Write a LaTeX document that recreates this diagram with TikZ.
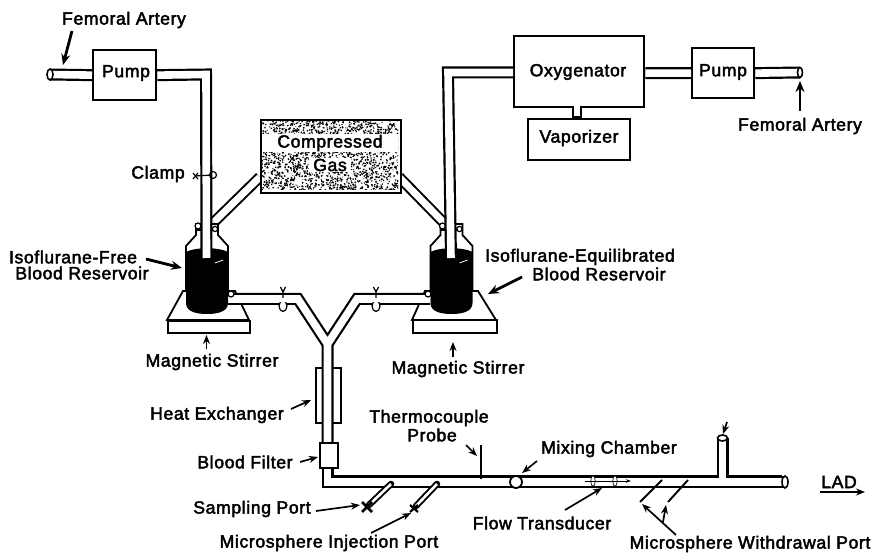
\documentclass[tikz,border=0pt]{standalone}
\usepackage{fontspec}
\setmainfont[FakeBold=2.5,LetterSpace=3.5]{Liberation Sans}
\usetikzlibrary{arrows.meta,shapes.geometric}
\tikzset{
  lbl/.style={font=\fontsize{17.6}{20}\selectfont,inner sep=0pt,align=center},
  box/.style={draw,fill=white,line width=2.3pt,inner sep=0pt,line join=miter},
  tubeo/.style={draw=black,line width=12pt,line join=miter},
  tubei/.style={draw=white,line width=7.6pt,line join=miter},
  thintubeo/.style={draw=black,line width=9pt},
  thintubei/.style={draw=white,line width=5pt},
  heavyarrow/.style={line width=2.8pt,-{Stealth[length=11pt,width=9pt]}},
  midarrow/.style={line width=1.7pt,-{Stealth[length=9pt,width=7pt]}},
  fineline/.style={line width=1.2pt},
  wall/.style={line width=1.8pt},
  tubeend/.style={draw,fill=white,line width=1.6pt},
}
\newcommand{\bottle}[1]{%
  \begin{scope}[shift={(#1,0)}]
    \draw[wall,fill=white] (-21,290) -- (-21,246) -- (-11,235) -- (-11,224) -- (11,224) -- (11,235) -- (21,246) -- (21,290);
    \fill (-21,252) .. controls (-12,247) and (12,247) .. (21,252) -- (21,303)
      .. controls (21,312) and (10,314) .. (0,314) .. controls (-10,314) and (-21,312) .. (-21,303) -- cycle;
    \draw[white,line width=.8pt] (8,263) -- (16,260);
    \draw[fineline] (-11,230) -- (11,230);
    \draw[fineline,fill=white] (-9,226) circle (3);
    \draw[fineline,fill=white] (8,229) circle (2.6);
  \end{scope}}
\begin{document}
\begin{tikzpicture}[x=1pt,y=-1pt]
\useasboundingbox[fill=white] (0,0) rectangle (871,553);
% named places
\coordinate (feL) at (50,74.5);
\coordinate (cornerA) at (206,74.5);
\coordinate (tipA) at (206.5,258);
\coordinate (cornerB) at (448,72.5);
\coordinate (tipB) at (451,258);
\coordinate (feR) at (800,72.5);
\coordinate (gasLa) at (260,177);
\coordinate (gasLb) at (214,222);
\coordinate (gasRa) at (399,177);
\coordinate (gasRb) at (445,224);
\coordinate (bL) at (228,299);
\coordinate (bLk) at (298,299);
\coordinate (bR) at (430,299);
\coordinate (bRk) at (357,299);
\coordinate (yc) at (327.5,344);
\coordinate (corner) at (327.5,482);
\coordinate (lad) at (785,482);
\coordinate (rise) at (722.5,438);
\coordinate (riseb) at (722.5,482);
\coordinate (vapA) at (577,106);
\coordinate (vapB) at (577,118);
% stirrers
\draw[wall,fill=white] (167,320) -- (183,291) -- (235,291) -- (249,320) -- cycle;
\node[box,minimum width=82pt,minimum height=12pt,anchor=north west] (stL) at (167,320) {};
\draw[wall,fill=white] (412,320) -- (425,291) -- (478,291) -- (496,320) -- cycle;
\node[box,minimum width=84pt,minimum height=13pt,anchor=north west] (stR) at (412,319) {};
% gas pipes
\path[tubeo,line width=11pt] (gasLa) -- (gasLb) (gasRa) -- (gasRb);
\path[tubei,line width=7pt] (gasLa) -- (gasLb) (gasRa) -- (gasRb);
% exchanger
\node[draw,line width=1.6pt,minimum width=25pt,minimum height=55pt,inner sep=0pt,anchor=north west] (hx) at (315,367) {};
% blood tubes
\path[tubeo] (bL) -- (bLk) -- (yc) -- (327.5,445) (bR) -- (bRk) -- (yc);
\path[tubeo] (327.5,460) -- (corner) -- (lad) (rise) -- (riseb);
\path[tubei] (bL) -- (bLk) -- (yc) -- (327.5,445) (bR) -- (bRk) -- (yc);
\path[tubei] (327.5,460) -- (corner) -- (lad) (rise) -- (riseb);
\coordinate (upA) at (331,477);
\coordinate (upB) at (717,477);
\coordinate (upC) at (729,477);
\coordinate (upD) at (782,477);
\draw[line width=3pt] (upA) -- (upB) (upC) -- (upD);
% bottles
\bottle{207}
\bottle{451.5}
% outlet loops
\draw[fineline,fill=white] (231,294) circle (3);
\draw[fineline,fill=white] (428,294) circle (3);
% nodes
\node[box,minimum width=63pt,minimum height=50pt,anchor=north west] (pumpL) at (92,49) {};
\node[box,minimum width=130pt,minimum height=71pt,anchor=north west] (oxy) at (513,35) {};
\node[box,minimum width=62pt,minimum height=50pt,anchor=north west] (pumpR) at (691,47) {};
\node[box,minimum width=102pt,minimum height=41pt,anchor=north west] (vap) at (527,118) {};
\node[box,minimum width=18pt,minimum height=25pt,anchor=north west] (filt) at (319,442) {};
\node[box,minimum width=140pt,minimum height=73pt,anchor=north west] (gas) at (259.5,119) {};
% stipple
\begin{scope}
\clip (261,121) rectangle (398,190);
\pgfmathsetseed{7}
\foreach \i in {1,...,1900}{
  \pgfmathsetmacro\xa{260+139*rnd}
  \pgfmathsetmacro\ya{120+71*rnd}
  \pgfmathsetmacro\dxa{3.2*rnd-1.6}
  \pgfmathsetmacro\dya{3.2*rnd-1.6}
  \draw[line width=1.3pt] (\xa,\ya) -- ++(\dxa,\dya);
}
\end{scope}
% pump and vessel tubes
\path[tubeo] (feL) -- (pumpL.west) (pumpL.east) -- (cornerA) -- (tipA);
\path[tubei] (feL) -- (pumpL.west) (pumpL.east) -- (cornerA) -- (tipA);
\path[tubeo] (oxy.west |- cornerB) -- (cornerB) -- (tipB);
\path[tubei] (oxy.west |- cornerB) -- (cornerB) -- (tipB);
\path[tubeo] (oxy.east |- pumpR.west) -- (pumpR.west) (pumpR.east) -- (feR);
\path[tubei] (oxy.east |- pumpR.west) -- (pumpR.west) (pumpR.east) -- (feR);
\path[thintubeo,line width=10pt] (vapA) -- (vapB);
\path[thintubei,line width=6pt] (vapA) ++(0,-2) -- ([yshift=2pt]vapB);
% tube ends
\node[tubeend,ellipse,minimum width=6pt,minimum height=11pt,inner sep=0pt] (endL) at (feL) {};
\node[tubeend,ellipse,minimum width=5pt,minimum height=10pt,inner sep=0pt] (endR) at (feR) {};
\node[tubeend,ellipse,minimum width=6pt,minimum height=12pt,inner sep=0pt] (endLad) at (lad) {};
\node[tubeend,ellipse,minimum width=10pt,minimum height=6pt,inner sep=0pt] (endRise) at (rise) {};
\node[tubeend,circle,minimum size=12pt,inner sep=0pt,line width=1.8pt] (mix) at (516,482) {};
% clamps
\coordinate (clA) at (195,176);
\node[draw,circle,fineline,minimum size=7pt,inner sep=0pt] (clAl) at (213,175) {};
\draw[fineline] (clA) -- (clAl);
\draw[fineline] (193,173) -- (198,179) (198,173) -- (193,179);
\foreach \cx/\nm in {283/a,376/b}{
  \node[draw,ellipse,fineline,fill=white,minimum width=8pt,minimum height=11pt,inner sep=0pt] (cl\nm) at (\cx,306) {};
  \path[draw=white,line width=7pt] (\cx-5,299) -- (\cx+5,299);
  \draw[fineline] (\cx,298) -- (\cx,292) (\cx-2.5,287) -- (\cx,292) -- (\cx+2.5,287);
}
% thermocouple
\coordinate (tcT) at (481,445);
\coordinate (tcB) at (481,479);
\draw[line width=2.6pt] (tcT) -- (tcB);
% ports
\coordinate (p1a) at (391,484);
\coordinate (p1b) at (369,505);
\coordinate (p2a) at (437,484);
\coordinate (p2b) at (416,506);
\path[thintubeo,line width=6.5pt,line cap=round] (p1a) -- (p1b) (p2a) -- (p2b);
\path[thintubei,line width=2.6pt] (p1a) -- (p1b) (p2a) -- (p2b);
\draw[line width=2.6pt] (362,502) -- (372,512) (372,502) -- (362,512);
\draw[line width=2.2pt] (410,505) -- (418,512) (418,505) -- (410,512);
% transducer
\draw[line width=.7pt,fill=white] (593,481) ellipse (2.2 and 5.5);
\draw[line width=.7pt,fill=white] (615,481) ellipse (2.2 and 5.5);
\draw[line width=.9pt,-{Stealth[length=5pt,width=3.5pt]}] (585,481) -- (631,481);
% withdrawal lines
\coordinate (w1a) at (662,480);
\coordinate (w1b) at (640,502);
\coordinate (w2a) at (688,480);
\coordinate (w2b) at (668,502);
\draw[line width=1.9pt] (w1a) -- (w1b) (w2a) -- (w2b);
% labels
\node[lbl] (tFL) at (124,20) {Femoral Artery};
\node[lbl] (tPL) at (126,73) {Pump};
\node[lbl] (tOx) at (578,72) {Oxygenator};
\node[lbl] (tPR) at (723,72) {Pump};
\node[lbl] (tVa) at (579,138) {Vaporizer};
\node[lbl] (tFR) at (800,126) {Femoral Artery};
\node[lbl,fill=white,inner xsep=15pt,inner ysep=1pt] (tCo) at (330,143) {Compressed};
\node[lbl,fill=white,inner xsep=4pt,inner ysep=1pt] (tGa) at (330,165) {Gas};
\node[lbl] (tCl) at (158,174) {Clamp};
\node[lbl] (tIF) at (73,257) {Isoflurane-Free};
\node[lbl] (tBL) at (82,273) {Blood Reservoir};
\node[lbl] (tIE) at (580,257) {Isoflurane-Equilibrated};
\node[lbl] (tBR) at (599,274) {Blood Reservoir};
\node[lbl] (tML) at (212,362) {Magnetic Stirrer};
\node[lbl] (tMR) at (458,369) {Magnetic Stirrer};
\node[lbl] (tHE) at (217,415) {Heat Exchanger};
\node[lbl] (tBF) at (245,462) {Blood Filter};
\node[lbl] (tTh) at (429,418) {Thermocouple};
\node[lbl] (tPr) at (432,435) {Probe};
\node[lbl] (tMC) at (609,449) {Mixing Chamber};
\node[lbl] (tSP) at (252,509) {Sampling Port};
\node[lbl] (tFT) at (542,523) {Flow Transducer};
\node[lbl] (tMI) at (329,543) {Microsphere Injection Port};
\node[lbl] (tMW) at (750,544) {Microsphere Withdrawal Port};
\node[lbl] (tLA) at (839,482) {LAD};
% arrows
\coordinate (a1) at (72,31);     \coordinate (a1e) at (63,65);
\coordinate (a2) at (800,111);   \coordinate (a2e) at (800,81);
\coordinate (a3) at (146,259);   \coordinate (a3e) at (182,268);
\coordinate (a4) at (522,277);   \coordinate (a4e) at (488,294);
\coordinate (a5) at (206.5,349); \coordinate (a5e) at (206.5,335);
\coordinate (a6) at (453,357);   \coordinate (a6e) at (453,342);
\coordinate (a7) at (291,409);   \coordinate (a7e) at (311,400);
\coordinate (a8) at (300,462);   \coordinate (a8e) at (318,457);
\coordinate (a9) at (466,445);   \coordinate (a9e) at (477,456);
\coordinate (a10) at (316,511);  \coordinate (a10e) at (360,505);
\coordinate (a11) at (371,533);  \coordinate (a11e) at (411,513);
\coordinate (a12) at (537,461);  \coordinate (a12e) at (522,473);
\coordinate (a13) at (565,510);  \coordinate (a13e) at (602,488);
\coordinate (a14) at (727,422);  \coordinate (a14e) at (723,434);
\coordinate (a15) at (676,535);  \coordinate (a15e) at (642,504);
\coordinate (a16) at (663,522);  \coordinate (a16e) at (666,505);
\coordinate (a17) at (820,492);  \coordinate (a17e) at (865,492);
\draw[heavyarrow] (a1) -- (a1e);
\draw[heavyarrow] (a2) -- (a2e);
\draw[heavyarrow] (a3) -- (a3e);
\draw[heavyarrow] (a4) -- (a4e);
\draw[midarrow] (a5) -- (a5e);
\draw[midarrow] (a6) -- (a6e);
\draw[midarrow] (a7) -- (a7e);
\draw[midarrow] (a8) -- (a8e);
\draw[midarrow] (a9) -- (a9e);
\draw[midarrow] (a10) -- (a10e);
\draw[midarrow] (a11) -- (a11e);
\draw[midarrow] (a12) -- (a12e);
\draw[midarrow] (a13) -- (a13e);
\draw[midarrow] (a14) -- (a14e);
\draw[midarrow] (a15) -- (a15e);
\draw[midarrow] (a16) -- (a16e);
\draw[midarrow] (a17) -- (a17e);
\end{tikzpicture}
\end{document}
